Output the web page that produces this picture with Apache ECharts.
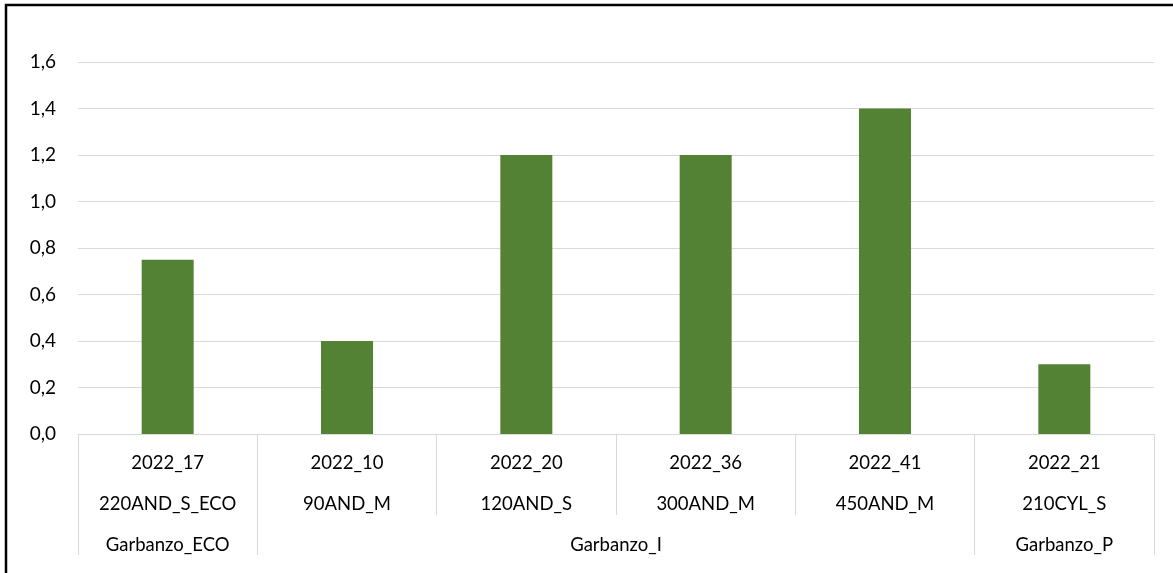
<!DOCTYPE html>
<html>
<head>
<meta charset="utf-8">
<script src="https://cdn.jsdelivr.net/npm/echarts@6/dist/echarts.min.js"></script>
<style>
  html, body { margin: 0; padding: 0; background: #fff; }
  #chart { width: 1173px; height: 573px; }
</style>
</head>
<body>
<div id="chart"></div>
<script>
// datos del grafico
var categories = ['2022_17', '2022_10', '2022_20', '2022_36', '2022_41', '2022_21'];
var subLabels = ['220AND_S_ECO', '90AND_M', '120AND_S', '300AND_M', '450AND_M', '210CYL_S'];
var groups = ['Garbanzo_ECO', 'Garbanzo_I', 'Garbanzo_P'];
var groupSpans = [1, 4, 1];
var values = [0.75, 0.4, 1.2, 1.2, 1.4, 0.3];

// limites y centros de cada grupo (en unidades de categoria)
var groupEdges = [0];
var groupMids = [];
groupSpans.forEach(function(n, i) {
  var start = groupEdges[i];
  groupEdges.push(start + n);
  groupMids.push(start + n / 2);
});

var FONT = 'Lato';
var GRID = '#d9d9d9';

var chart = echarts.init(document.getElementById('chart'));
chart.setOption({
  animation: false,
  graphic: [{
    type: 'rect',
    shape: { x: 6, y: 5, width: 1300, height: 800 },
    style: { fill: null, stroke: '#000', lineWidth: 2.5 },
    silent: true
  }],
  grid: { left: 78, right: 19, top: 62, bottom: 139 },
  xAxis: [{
    type: 'category',
    data: categories,
    axisLine: { show: true, lineStyle: { color: GRID, width: 1 } },
    axisTick: { show: true, length: 81, lineStyle: { color: GRID } },
    axisLabel: {
      interval: 0,
      margin: 9,
      fontFamily: FONT,
      fontSize: 18.5,
      color: '#000',
      lineHeight: 41,
      formatter: function(v, i) { return v + '\n' + subLabels[i]; }
    }
  }, {
    type: 'value',
    position: 'bottom',
    min: 0,
    max: categories.length,
    axisLine: { show: false },
    splitLine: { show: false },
    axisTick: { show: true, length: 121, customValues: groupEdges, lineStyle: { color: GRID } },
    axisLabel: {
      customValues: groupMids,
      margin: 101,
      fontFamily: FONT,
      fontSize: 18.5,
      color: '#000',
      lineHeight: 20,
      formatter: function(v) { return groups[groupMids.indexOf(v)]; }
    }
  }],
  yAxis: {
    type: 'value',
    min: 0,
    max: 1.6,
    interval: 0.2,
    axisLine: { show: false },
    axisTick: { show: false },
    splitLine: { lineStyle: { color: GRID, width: 1 } },
    axisLabel: {
      margin: 22,
      fontFamily: FONT,
      fontSize: 19,
      color: '#000',
      formatter: function(v) { return v.toFixed(1).replace('.', ','); }
    }
  },
  series: [{
    type: 'bar',
    xAxisIndex: 0,
    data: values,
    barWidth: '29%',
    itemStyle: { color: '#548235' }
  }]
});
</script>
</body>
</html>
